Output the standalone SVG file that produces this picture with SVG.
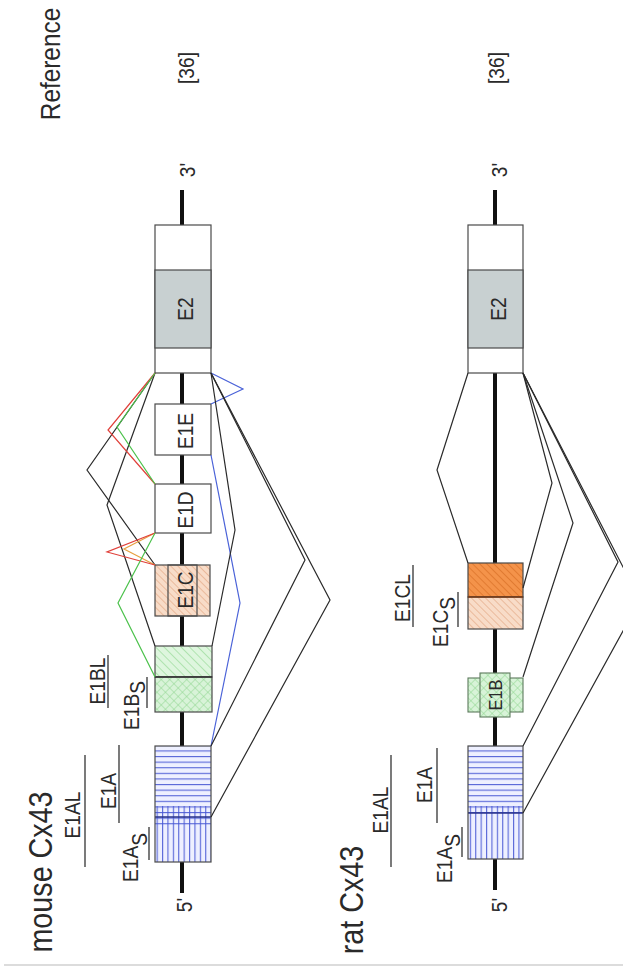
<svg xmlns="http://www.w3.org/2000/svg" width="623" height="975" viewBox="0 0 623 975">
  <style>
    .t { font-family: "Liberation Sans", Arial, sans-serif; fill: #2a2a2a; }
    .lab { font-size: 22px; }
    .title { font-size: 33px; }
    .gene { stroke: #111; stroke-width: 4; }
    .box { stroke: #4a4a4a; stroke-width: 1.2; }
    .bar { stroke: #333; stroke-width: 1.3; }
    .c { fill: none; stroke-width: 1.2; stroke-linejoin: miter; }
    .k { stroke: #2a2a2a; }
    .r { stroke: #e0403a; }
    .o { stroke: #e8a040; }
    .g { stroke: #4cc24c; }
    .b { stroke: #4a62d8; }
  </style>
  <defs>
    <pattern id="hz" patternUnits="userSpaceOnUse" width="8" height="5.6">
      <line x1="0" y1="0.6" x2="8" y2="0.6" stroke="#4656d4" stroke-width="1"/>
    </pattern>
    <pattern id="vt" patternUnits="userSpaceOnUse" width="5.4" height="8">
      <line x1="0.6" y1="0" x2="0.6" y2="8" stroke="#4656d4" stroke-width="1"/>
    </pattern>
    <pattern id="diagG" patternUnits="userSpaceOnUse" width="6" height="6" patternTransform="rotate(-45)">
      <rect width="6" height="6" fill="#def6de"/>
      <line x1="0" y1="0" x2="0" y2="6" stroke="#8fd68f" stroke-width="1.2"/>
    </pattern>
    <pattern id="crossG" patternUnits="userSpaceOnUse" width="6" height="6" patternTransform="rotate(45)">
      <rect width="6" height="6" fill="#d8f3d8"/>
      <line x1="0" y1="0" x2="0" y2="6" stroke="#8fd68f" stroke-width="1"/>
      <line x1="0" y1="0" x2="6" y2="0" stroke="#8fd68f" stroke-width="1"/>
    </pattern>
    <pattern id="diagP" patternUnits="userSpaceOnUse" width="5" height="5" patternTransform="rotate(-45)">
      <rect width="5" height="5" fill="#f8dcc8"/>
      <line x1="0" y1="0" x2="0" y2="5" stroke="#e2a47e" stroke-width="1.2"/>
    </pattern>
    <pattern id="diagO" patternUnits="userSpaceOnUse" width="5" height="5" patternTransform="rotate(-45)">
      <rect width="5" height="5" fill="#f4934a"/>
      <line x1="0" y1="0" x2="0" y2="5" stroke="#d46a22" stroke-width="1.2"/>
    </pattern>
  </defs>

  <rect width="623" height="975" fill="#ffffff"/>

  <!-- header texts -->
  <g id="header">
    <text class="t" font-size="28" text-anchor="middle" transform="translate(60,64) rotate(-90) scale(0.87,1)">Reference</text>
    <text class="t lab" text-anchor="middle" transform="translate(194,68) rotate(-90) scale(0.87,1)">[36]</text>
    <text class="t lab" text-anchor="middle" transform="translate(504,68) rotate(-90) scale(0.87,1)">[36]</text>
  </g>

  <!-- ===== mouse Cx43 ===== -->
  <g id="mouse-gene">
    <line class="gene" x1="182" y1="190" x2="182" y2="893"/>
    <text class="t lab" text-anchor="middle" transform="translate(195,170) rotate(-90) scale(0.87,1)">3'</text>
    <text class="t lab" text-anchor="middle" transform="translate(192,905) rotate(-90) scale(0.87,1)">5'</text>
  </g>

  <g id="mouse-E2">
    <rect class="box" x="155" y="225" width="56" height="148" fill="#ffffff"/>
    <rect class="box" x="155" y="270" width="56" height="78" fill="#c8d0d1"/>
    <text class="t lab" text-anchor="middle" transform="translate(193,309) rotate(-90) scale(0.87,1)">E2</text>
  </g>
  <g id="mouse-E1E">
    <rect class="box" x="155" y="404" width="56" height="51" fill="#ffffff"/>
    <text class="t lab" text-anchor="middle" transform="translate(193,431) rotate(-90) scale(0.87,1)">E1E</text>
  </g>
  <g id="mouse-E1D">
    <rect class="box" x="155" y="484" width="56" height="49" fill="#ffffff"/>
    <text class="t lab" text-anchor="middle" transform="translate(193,510) rotate(-90) scale(0.87,1)">E1D</text>
  </g>
  <g id="mouse-E1C">
    <rect class="box" x="155" y="565" width="55" height="51" fill="url(#diagP)"/>
    <rect class="box" x="168" y="565" width="29" height="51" fill="none"/>
    <text class="t lab" text-anchor="middle" transform="translate(193,590) rotate(-90) scale(0.87,1)">E1C</text>
  </g>
  <g id="mouse-E1B">
    <rect class="box" x="155" y="646" width="57" height="31" fill="url(#diagG)"/>
    <rect class="box" x="155" y="677" width="57" height="35" fill="url(#crossG)"/>
    <line x1="155" y1="677" x2="212" y2="677" stroke="#333" stroke-width="1.4"/>
  </g>
  <g id="mouse-E1A">
    <rect x="155" y="746" width="56" height="116" fill="#eef0ff"/>
    <rect x="155" y="746" width="56" height="80" fill="url(#hz)"/>
    <rect x="155" y="806" width="56" height="56" fill="url(#vt)"/>
    <line x1="155" y1="817" x2="211" y2="817" stroke="#27318a" stroke-width="1.4"/>
    <rect class="box" x="155" y="746" width="56" height="116" fill="none"/>
  </g>

  <g id="mouse-labels">
    <text class="t title" text-anchor="middle" transform="translate(52,872) rotate(-90) scale(0.87,1)">mouse Cx43</text>
    <text class="t lab" text-anchor="middle" transform="translate(80,815) rotate(-90) scale(0.87,1)">E1AL</text>
    <line class="bar" x1="85" y1="755" x2="85" y2="867"/>
    <text class="t lab" text-anchor="middle" transform="translate(116,791) rotate(-90) scale(0.87,1)">E1A</text>
    <line class="bar" x1="119" y1="745" x2="119" y2="823"/>
    <text class="t lab" transform="translate(138,882) rotate(-90) scale(0.87,1)">E1A<tspan dy="9">S</tspan></text>
    <line class="bar" x1="149" y1="827" x2="149" y2="860"/>
    <text class="t lab" text-anchor="middle" transform="translate(105,681) rotate(-90) scale(0.87,1)">E1BL</text>
    <line class="bar" x1="108" y1="655" x2="108" y2="708"/>
    <text class="t lab" transform="translate(139,730) rotate(-90) scale(0.87,1)">E1B<tspan dy="6">S</tspan></text>
    <line class="bar" x1="147" y1="677" x2="147" y2="708"/>
  </g>

  <!-- ===== rat Cx43 ===== -->
  <g id="rat-gene">
    <line class="gene" x1="495" y1="190" x2="495" y2="890"/>
    <text class="t lab" text-anchor="middle" transform="translate(507,170) rotate(-90) scale(0.87,1)">3'</text>
    <text class="t lab" text-anchor="middle" transform="translate(507,905) rotate(-90) scale(0.87,1)">5'</text>
  </g>
  <g id="rat-E2">
    <rect class="box" x="468" y="225" width="55" height="148" fill="#ffffff"/>
    <rect class="box" x="468" y="270" width="55" height="78" fill="#c8d0d1"/>
    <text class="t lab" text-anchor="middle" transform="translate(506,309) rotate(-90) scale(0.87,1)">E2</text>
  </g>
  <g id="rat-E1C">
    <rect class="box" x="468" y="563" width="55" height="34" fill="url(#diagO)"/>
    <rect class="box" x="468" y="597" width="55" height="32" fill="url(#diagP)"/>
    <line x1="468" y1="597" x2="523" y2="597" stroke="#7a3a14" stroke-width="1.4"/>
  </g>
  <g id="rat-E1B">
    <rect x="468" y="678" width="55" height="34" fill="url(#crossG)" stroke="#5d7a5d" stroke-width="1.1"/>
    <rect x="480" y="673" width="30" height="44" fill="url(#crossG)" stroke="#5d7a5d" stroke-width="1.1"/>
    <text class="t" font-size="19" text-anchor="middle" transform="translate(502,695) rotate(-90) scale(0.87,1)">E1B</text>
  </g>
  <g id="rat-E1A">
    <rect x="468" y="746" width="55" height="113" fill="#eef0ff"/>
    <rect x="468" y="746" width="55" height="67" fill="url(#hz)"/>
    <rect x="468" y="806" width="55" height="53" fill="url(#vt)"/>
    <line x1="468" y1="813" x2="523" y2="813" stroke="#27318a" stroke-width="1.4"/>
    <rect class="box" x="468" y="746" width="55" height="113" fill="none"/>
  </g>

  <g id="rat-labels">
    <text class="t title" text-anchor="middle" transform="translate(363,900) rotate(-90) scale(0.87,1)">rat Cx43</text>
    <text class="t lab" text-anchor="middle" transform="translate(388,810) rotate(-90) scale(0.87,1)">E1AL</text>
    <line class="bar" x1="391" y1="755" x2="391" y2="867"/>
    <text class="t lab" text-anchor="middle" transform="translate(432,785) rotate(-90) scale(0.87,1)">E1A</text>
    <line class="bar" x1="437" y1="748" x2="437" y2="823"/>
    <text class="t lab" transform="translate(452,883) rotate(-90) scale(0.87,1)">E1A<tspan dy="8">S</tspan></text>
    <line class="bar" x1="462" y1="827" x2="462" y2="857"/>
    <text class="t lab" text-anchor="middle" transform="translate(410,598) rotate(-90) scale(0.87,1)">E1CL</text>
    <line class="bar" x1="413" y1="565" x2="413" y2="627"/>
    <text class="t lab" transform="translate(448,647) rotate(-90) scale(0.87,1)">E1C<tspan dy="7">S</tspan></text>
    <line class="bar" x1="458" y1="592" x2="458" y2="627"/>
  </g>

  <!-- splice connectors -->
  <g id="connectors">
    <!-- mouse, left of the gene -->
    <polyline class="c k" points="155,373 87,470 155,565"/>
    <polyline class="c k" points="155,373 107,505 155,646"/>
    <polyline class="c r" points="155,373 108,430 155,484"/>
    <polyline class="c g" points="155,373 117,427 155,484"/>
    <polyline class="c o" points="155,533 124,549 155,565"/>
    <polyline class="c r" points="155,533 107,552 155,565"/>
    <polyline class="c g" points="155,533 118,603 155,677"/>
    <!-- mouse, right of the gene -->
    <polyline class="c b" points="211,373 243,389 211,404"/>
    <polyline class="c b" points="211,455 240,603 211,746"/>
    <polyline class="c k" points="211,373 235,530 212,646"/>
    <polyline class="c k" points="211,373 305,560 211,746"/>
    <polyline class="c k" points="211,373 330,600 211,817"/>
    <!-- rat -->
    <polyline class="c k" points="468,373 437,470 468,563"/>
    <polyline class="c k" points="523,373 552,483 523,588"/>
    <polyline class="c k" points="523,373 573,523 523,677"/>
    <polyline class="c k" points="523,373 618,562 523,746"/>
    <polyline class="c k" points="523,373 640,600 523,813"/>
  </g>

  <line x1="4" y1="965" x2="623" y2="965" stroke="#dcdcdc" stroke-width="2"/>
</svg>
